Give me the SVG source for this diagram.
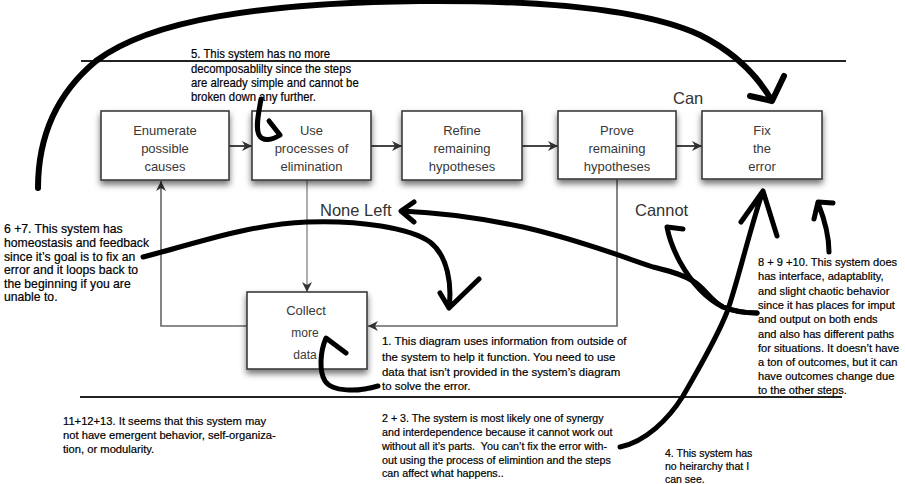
<svg xmlns="http://www.w3.org/2000/svg" width="905" height="484" viewBox="0 0 905 484">
<style>
.box{fill:#fff;stroke:#3c3c3c;stroke-width:1.6;filter:url(#sh)}
.bt{font-family:"Liberation Sans",Arial,sans-serif;font-size:13px;fill:#383838;text-anchor:middle}
.lbl{font-family:"Liberation Sans",Arial,sans-serif;font-size:16.5px;fill:#333}
.ann{font-family:"Liberation Sans",Arial,sans-serif;fill:#000;stroke:#000;stroke-width:0.2}
.ink{fill:none;stroke:#000;stroke-width:5;stroke-linecap:round;stroke-linejoin:round}
.rule{stroke:#222;stroke-width:2}
.flow{fill:none;stroke:#444;stroke-width:2}
.thin{fill:none;stroke:#777;stroke-width:1.2}
.loop{fill:none;stroke:#666;stroke-width:1.6}
</style>
<defs>
<filter id="sh" x="-20%" y="-20%" width="140%" height="170%"><feDropShadow dx="0" dy="4" stdDeviation="3" flood-color="#000" flood-opacity="0.55"/></filter>
<marker id="ah" viewBox="0 0 10 10" refX="10" refY="5" markerWidth="10" markerHeight="10" orient="auto" markerUnits="userSpaceOnUse"><path d="M0,0 L10,5 L0,10 L3,5 z" fill="#333"/></marker>
</defs>
<rect width="905" height="484" fill="#fff"/>
<g id="rules">
<line class="rule" x1="81" y1="61" x2="846" y2="61"/>
<line class="rule" x1="80" y1="397" x2="842" y2="397"/>
</g>
<g id="connectors">
<path class="flow" d="M229,146 H252" marker-end="url(#ah)"/>
<path class="flow" d="M371,146 H402" marker-end="url(#ah)"/>
<path class="flow" d="M522,146 H558" marker-end="url(#ah)"/>
<path class="flow" d="M676,146 H702" marker-end="url(#ah)"/>
<path class="thin" d="M307,180 V292" marker-end="url(#ah)"/>
<path class="loop" d="M617,179 V326 H368" marker-end="url(#ah)"/>
<path class="loop" d="M247,326 H161 V181" marker-end="url(#ah)"/>
</g>
<g id="enumerate"><rect class="box" x="101" y="111" width="128" height="69"/><text class="bt" x="165" y="135">Enumerate</text><text class="bt" x="165" y="153">possible</text><text class="bt" x="165" y="171">causes</text></g>
<g id="eliminate"><rect class="box" x="252" y="111" width="119" height="69"/><text class="bt" x="311.5" y="135">Use</text><text class="bt" x="311.5" y="153">processes of</text><text class="bt" x="311.5" y="171">elimination</text></g>
<g id="refine"><rect class="box" x="402" y="111" width="120" height="69"/><text class="bt" x="462" y="135">Refine</text><text class="bt" x="462" y="153">remaining</text><text class="bt" x="462" y="171">hypotheses</text></g>
<g id="prove"><rect class="box" x="558" y="111" width="118" height="68"/><text class="bt" x="617" y="135">Prove</text><text class="bt" x="617" y="153">remaining</text><text class="bt" x="617" y="171">hypotheses</text></g>
<g id="fix"><rect class="box" x="702" y="111" width="120" height="68"/><text class="bt" x="762" y="135">Fix</text><text class="bt" x="762" y="153">the</text><text class="bt" x="762" y="171">error</text></g>
<g id="collect"><rect class="box" x="247" y="292" width="120" height="77"/><text class="bt" x="306" y="315">Collect</text><text class="bt" x="305" y="337" style="font-size:12px">more</text><text class="bt" x="305" y="359" style="font-size:12px">data</text></g>
<g id="labels">
<text class="lbl" x="673" y="104">Can</text>
<text class="lbl" x="320" y="216">None Left</text>
<text class="lbl" x="635" y="216">Cannot</text>
</g>
<g id="ink-arrows">
<path class="ink" style="stroke-width:6" d="M38,188 C38,140 55,95 96,61 C150,20 260,3 420,1 C560,0 650,12 700,35 C740,55 760,80 772,101 M750,96 L772,101 L784,76"/>
<path class="ink" d="M261,99 C259,112 255,127 259,135 C263,142 272,140 280,135 M269,121 L280,135"/>
<path class="ink" d="M143,257 C190,245 250,224 307,222 C360,220 410,228 430,242 C448,256 452,285 449,308 M479,279 L449,308 M440,293 L449,308"/>
<path class="ink" d="M757,313 C745,313 733,311 723,307 C710,300 705,288 693,281 C680,273 668,271 653,267 C620,256 580,240 523,227 C490,220 450,213 402,211 M414,202 L401,211 L414,222"/>
<path class="ink" d="M757,313 C745,313 733,311 723,307 C705,298 690,280 680,262 C673,249 669,238 667,227 L683,229"/>
<path class="ink" d="M620,447 C645,442 668,420 683,396 C700,366 716,340 727,312 C737,285 750,228 763,191 M741,222 L763,191 L777,236"/>
<path class="ink" d="M829,252 C829,235 824,218 818,203 M814,219 L818,202 L833,203"/>
<path class="ink" d="M378,386 C358,392 332,392 325,381 C319,371 320,352 326,338 L346,353"/>
</g>
<g id="note5" transform="translate(191,0) scale(0.874,1)" class="ann" style="font-size:13px">
<text x="0" y="58">5. This system has no more</text>
<text x="0" y="73">decomposablilty since the steps</text>
<text x="0" y="87.5">are already simple and cannot be</text>
<text x="0" y="101.5">broken down any further.</text>
</g>
<g id="note67" class="ann" style="font-size:12.2px">
<text x="4" y="233">6 +7. This system has</text>
<text x="4" y="246.5">homeostasis and feedback</text>
<text x="4" y="260.5">since it’s goal is to fix an</text>
<text x="4" y="274">error and it loops back to</text>
<text x="4" y="287.5">the beginning if you are</text>
<text x="4" y="301">unable to.</text>
</g>
<g id="note1" class="ann" style="font-size:11.45px">
<text x="382" y="345">1. This diagram uses information from outside of</text>
<text x="382" y="360.5">the system to help it function. You need to use</text>
<text x="382" y="375.5">data that isn’t provided in the system’s diagram</text>
<text x="382" y="389.5">to solve the error.</text>
</g>
<g id="note8910" class="ann" style="font-size:11.1px">
<text x="758" y="266">8 + 9 +10. This system does</text>
<text x="758" y="280.3">has interface, adaptablity,</text>
<text x="758" y="294.6">and slight chaotic behavior</text>
<text x="758" y="309">since it has places for imput</text>
<text x="758" y="323">and output on both ends</text>
<text x="758" y="337.5">and also has different paths</text>
<text x="758" y="352">for situations. It doesn’t have</text>
<text x="758" y="366">a ton of outcomes, but it can</text>
<text x="758" y="380">have outcomes change due</text>
<text x="758" y="394">to the other steps.</text>
</g>
<g id="note23" class="ann" style="font-size:10.7px">
<text x="382" y="421.5">2 + 3. The system is most likely one of synergy</text>
<text x="382" y="435.5">and interdependence because it cannot work out</text>
<text x="382" y="449.5" xml:space="preserve">without all it’s parts.  You can’t fix the error with-</text>
<text x="382" y="463.5">out using the process of elimintion and the steps</text>
<text x="382" y="477">can affect what happens..</text>
</g>
<g id="note4" class="ann" style="font-size:10.5px">
<text x="665" y="457">4. This system has</text>
<text x="665" y="470">no heirarchy that I</text>
<text x="665" y="483">can see.</text>
</g>
<g id="note111213" class="ann" style="font-size:11.2px">
<text x="63" y="425">11+12+13. It seems that this system may</text>
<text x="63" y="439">not have emergent behavior, self-organiza-</text>
<text x="63" y="453">tion, or modularity.</text>
</g>
</svg>
